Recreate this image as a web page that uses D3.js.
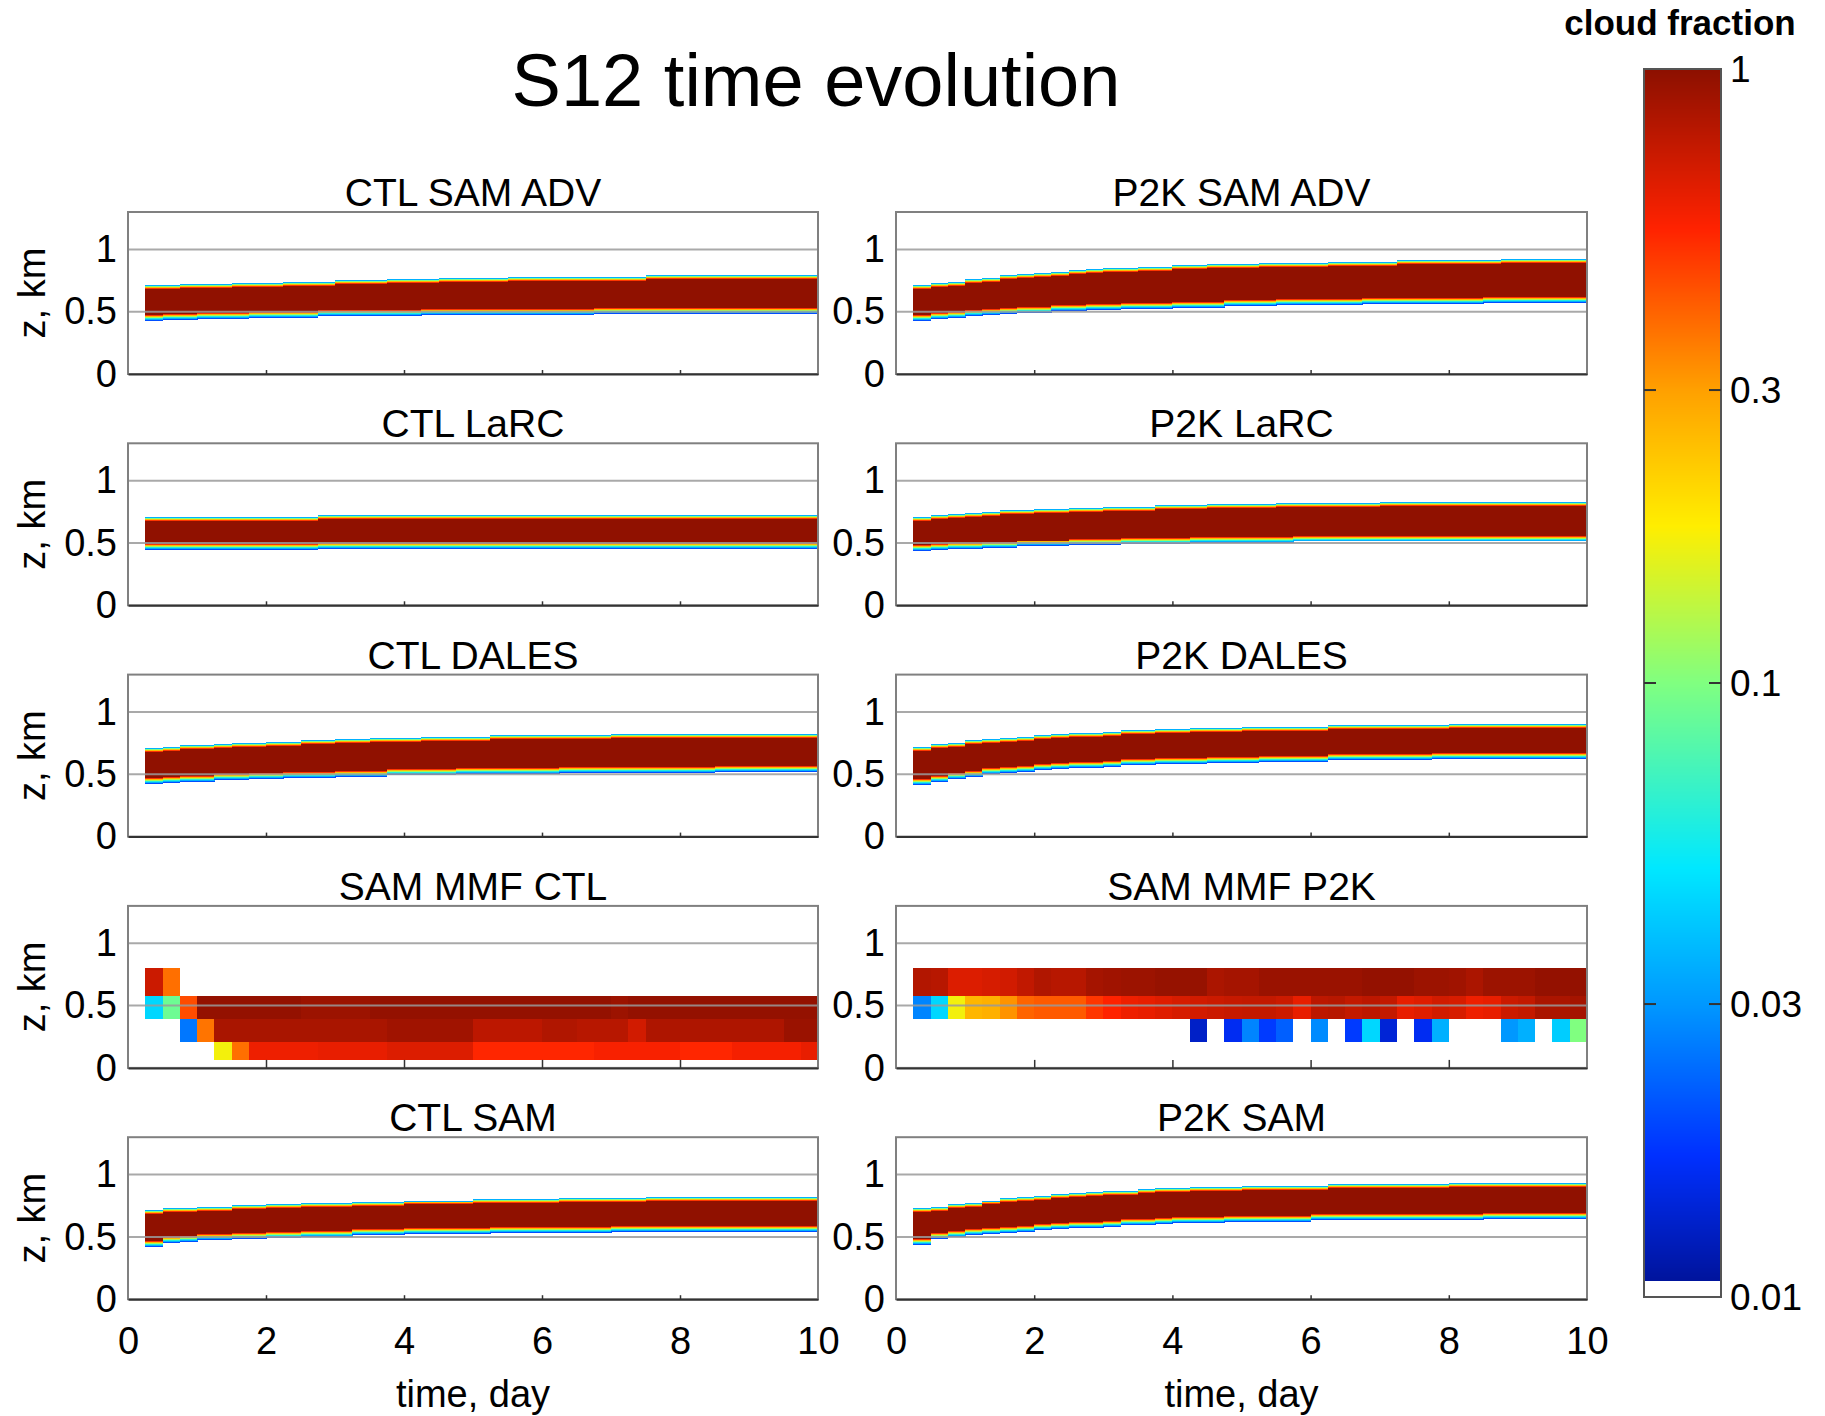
<!DOCTYPE html>
<html>
<head>
<meta charset="utf-8">
<script src="https://cdn.jsdelivr.net/npm/d3@7"></script>
<style>
  body{margin:0;background:#fff;}
  svg{display:block;font-family:"Liberation Sans",Arial,Helvetica,sans-serif;}
</style>
</head>
<body>
<div id="chart"></div>
<script>
// time columns: 0.25 day steps starting at day 0.25 (39 columns up to day 10)
const colStart=0.25, colWidth=0.25;

// LES runs: height (km) of top and base of the cloud core for every column
const ctlSamAdvTop=[0.68,0.68,0.69,0.69,0.69,0.70,0.70,0.70,0.71,0.71,0.71,0.72,0.72,0.72,0.73,0.73,0.73,0.74,0.74,0.74,0.74,0.75,0.75,0.75,0.75,0.75,0.75,0.75,0.75,0.76,0.76,0.76,0.76,0.76,0.76,0.76,0.76,0.76,0.76];
const ctlSamAdvBase=[0.47,0.48,0.48,0.49,0.49,0.49,0.50,0.50,0.50,0.50,0.51,0.51,0.51,0.51,0.51,0.51,0.52,0.52,0.52,0.52,0.52,0.52,0.52,0.52,0.52,0.52,0.53,0.53,0.53,0.53,0.53,0.53,0.53,0.53,0.53,0.53,0.53,0.53,0.53];
const p2kSamAdvTop=[0.68,0.70,0.71,0.73,0.74,0.76,0.77,0.78,0.79,0.80,0.81,0.82,0.82,0.83,0.83,0.84,0.84,0.85,0.85,0.85,0.86,0.86,0.86,0.86,0.87,0.87,0.87,0.87,0.88,0.88,0.88,0.88,0.88,0.88,0.89,0.89,0.89,0.89,0.89];
const p2kSamAdvBase=[0.47,0.49,0.50,0.51,0.52,0.53,0.54,0.54,0.55,0.55,0.56,0.56,0.57,0.57,0.57,0.58,0.58,0.58,0.59,0.59,0.59,0.60,0.60,0.60,0.60,0.60,0.61,0.61,0.61,0.61,0.61,0.61,0.61,0.62,0.62,0.62,0.62,0.62,0.62];
const ctlLarcTop=[0.68,0.68,0.68,0.68,0.68,0.68,0.68,0.68,0.68,0.68,0.69,0.69,0.69,0.69,0.69,0.69,0.69,0.69,0.69,0.69,0.69,0.69,0.69,0.69,0.69,0.69,0.69,0.69,0.69,0.69,0.69,0.69,0.69,0.69,0.69,0.69,0.69,0.69,0.69];
const ctlLarcBase=[0.49,0.49,0.49,0.49,0.49,0.49,0.49,0.49,0.49,0.49,0.50,0.50,0.50,0.50,0.50,0.50,0.50,0.50,0.50,0.50,0.50,0.50,0.50,0.50,0.50,0.50,0.50,0.50,0.50,0.50,0.50,0.50,0.50,0.50,0.50,0.50,0.50,0.50,0.50];
const p2kLarcTop=[0.68,0.69,0.70,0.71,0.72,0.73,0.73,0.74,0.74,0.75,0.75,0.76,0.76,0.76,0.77,0.77,0.77,0.78,0.78,0.78,0.78,0.79,0.79,0.79,0.79,0.79,0.79,0.80,0.80,0.80,0.80,0.80,0.80,0.80,0.80,0.80,0.80,0.80,0.80];
const p2kLarcBase=[0.48,0.49,0.50,0.50,0.51,0.51,0.52,0.52,0.52,0.53,0.53,0.53,0.54,0.54,0.54,0.54,0.55,0.55,0.55,0.55,0.55,0.55,0.56,0.56,0.56,0.56,0.56,0.56,0.56,0.56,0.56,0.56,0.56,0.56,0.56,0.56,0.56,0.56,0.56];
const ctlDalesTop=[0.68,0.69,0.70,0.70,0.71,0.72,0.72,0.73,0.73,0.74,0.74,0.75,0.75,0.76,0.76,0.76,0.77,0.77,0.77,0.77,0.78,0.78,0.78,0.78,0.78,0.78,0.78,0.79,0.79,0.79,0.79,0.79,0.79,0.79,0.79,0.79,0.79,0.79,0.79];
const ctlDalesBase=[0.47,0.48,0.49,0.49,0.50,0.50,0.51,0.51,0.52,0.52,0.52,0.53,0.53,0.53,0.54,0.54,0.54,0.54,0.55,0.55,0.55,0.55,0.55,0.55,0.56,0.56,0.56,0.56,0.56,0.56,0.56,0.56,0.56,0.57,0.57,0.57,0.57,0.57,0.57];
const p2kDalesTop=[0.69,0.71,0.72,0.74,0.75,0.76,0.77,0.78,0.79,0.80,0.80,0.81,0.82,0.82,0.83,0.83,0.84,0.84,0.84,0.85,0.85,0.85,0.85,0.85,0.86,0.86,0.86,0.86,0.86,0.86,0.86,0.87,0.87,0.87,0.87,0.87,0.87,0.87,0.87];
const p2kDalesBase=[0.46,0.49,0.51,0.53,0.55,0.56,0.57,0.58,0.59,0.60,0.60,0.61,0.62,0.62,0.63,0.63,0.63,0.64,0.64,0.64,0.65,0.65,0.65,0.65,0.66,0.66,0.66,0.66,0.66,0.66,0.67,0.67,0.67,0.67,0.67,0.67,0.67,0.67,0.67];
const ctlSamTop=[0.68,0.70,0.70,0.71,0.71,0.72,0.72,0.73,0.73,0.74,0.74,0.74,0.75,0.75,0.75,0.76,0.76,0.76,0.76,0.77,0.77,0.77,0.77,0.77,0.78,0.78,0.78,0.78,0.78,0.79,0.79,0.79,0.79,0.79,0.79,0.79,0.79,0.79,0.79];
const ctlSamBase=[0.47,0.50,0.51,0.52,0.52,0.53,0.53,0.54,0.54,0.55,0.55,0.55,0.56,0.56,0.56,0.57,0.57,0.57,0.57,0.57,0.58,0.58,0.58,0.58,0.58,0.58,0.58,0.59,0.59,0.59,0.59,0.59,0.59,0.59,0.59,0.59,0.59,0.59,0.59];
const p2kSamTop=[0.70,0.71,0.73,0.74,0.76,0.78,0.79,0.80,0.81,0.82,0.83,0.84,0.84,0.85,0.86,0.86,0.87,0.87,0.87,0.88,0.88,0.88,0.88,0.88,0.89,0.89,0.89,0.89,0.89,0.89,0.89,0.90,0.90,0.90,0.90,0.90,0.90,0.90,0.90];
const p2kSamBase=[0.48,0.53,0.55,0.56,0.57,0.58,0.59,0.60,0.61,0.62,0.62,0.63,0.64,0.64,0.65,0.66,0.66,0.66,0.67,0.67,0.67,0.67,0.67,0.68,0.68,0.68,0.68,0.68,0.68,0.68,0.68,0.68,0.68,0.69,0.69,0.69,0.69,0.69,0.69];

// cloud fraction inside the core, and the fringe layers above top / below base
const coreFraction=0.98;
const topFringe=[0.5,0.25,0.1,0.035];
const baseFringe=[0.5,0.25,0.12,0.06,0.035,0.02];
const fringeDz=0.008;

// SAM MMF: coarse levels (edges in km) and cloud fraction per level (lowest first)
const mmfLevels=[0.067,0.21,0.39,0.58,0.80];
const mmfCtl=[
  [0,0,0,0,0.17,0.38,0.6,0.6,0.6,0.6,0.62,0.62,0.62,0.62,0.66,0.66,0.66,0.66,0.66,0.54,0.54,0.54,0.54,0.54,0.54,0.54,0.57,0.57,0.57,0.57,0.57,0.54,0.54,0.54,0.58,0.58,0.58,0.58,0.62],
  [0,0,0.025,0.37,0.86,0.86,0.86,0.86,0.86,0.86,0.86,0.86,0.86,0.86,0.9,0.9,0.9,0.9,0.9,0.78,0.78,0.78,0.78,0.83,0.83,0.8,0.8,0.8,0.7,0.84,0.84,0.84,0.84,0.84,0.84,0.84,0.84,0.93,0.93],
  [0.045,0.09,0.45,0.96,0.96,0.96,0.96,0.96,0.96,0.92,0.92,0.92,0.92,0.96,0.96,0.96,0.96,0.96,0.96,0.96,0.96,0.96,0.96,0.96,0.96,0.96,0.96,0.92,0.96,0.96,0.96,0.96,0.96,0.96,0.96,0.96,0.96,0.96,0.96],
  [0.72,0.38,0,0,0,0,0,0,0,0,0,0,0,0,0,0,0,0,0,0,0,0,0,0,0,0,0,0,0,0,0,0,0,0,0,0,0,0,0]
];
const mmfP2k=[
  [0,0,0,0,0,0,0,0,0,0,0,0,0,0,0,0,0,0,0,0,0,0,0,0,0,0,0,0,0,0,0,0,0,0,0,0,0,0,0],
  [0,0,0,0,0,0,0,0,0,0,0,0,0,0,0,0,0.013,0,0.016,0.027,0.018,0.022,0,0.028,0,0.018,0.045,0.014,0,0.016,0.035,0,0,0,0.03,0.035,0,0.042,0.1],
  [0.027,0.045,0.17,0.26,0.27,0.32,0.4,0.42,0.42,0.42,0.5,0.55,0.6,0.62,0.65,0.68,0.7,0.72,0.74,0.75,0.75,0.72,0.62,0.78,0.8,0.75,0.78,0.75,0.62,0.65,0.7,0.68,0.6,0.62,0.72,0.75,0.85,0.85,0.88],
  [0.82,0.8,0.66,0.66,0.68,0.7,0.76,0.83,0.8,0.8,0.88,0.9,0.92,0.92,0.95,0.95,0.95,0.85,0.88,0.88,0.93,0.93,0.93,0.93,0.93,0.93,0.96,0.96,0.96,0.92,0.92,0.9,0.85,0.92,0.92,0.92,0.96,0.96,0.96]
];

// colour map (log cloud fraction)
const cmapValues=[0.0105,0.017,0.03,0.05,0.1,0.18,0.3,0.55,1];
const cmapColors=["#00139a","#0030ff","#0098ff","#00e8ff","#80ff80","#ffee00","#ffa000","#ff2200","#8c1000"];
const cbarTicks=[1,0.3,0.1,0.03,0.01];
const whiteBelow=0.0106;

const dayTicks=[0,2,4,6,8,10];
const zTicks=[0,0.5,1];
const zGrid=[0.5,1];

const panels=[
  {title:"CTL SAM ADV",top:ctlSamAdvTop,base:ctlSamAdvBase},
  {title:"P2K SAM ADV",top:p2kSamAdvTop,base:p2kSamAdvBase},
  {title:"CTL LaRC",top:ctlLarcTop,base:ctlLarcBase},
  {title:"P2K LaRC",top:p2kLarcTop,base:p2kLarcBase},
  {title:"CTL DALES",top:ctlDalesTop,base:ctlDalesBase},
  {title:"P2K DALES",top:p2kDalesTop,base:p2kDalesBase},
  {title:"SAM MMF CTL",mmf:mmfCtl},
  {title:"SAM MMF P2K",mmf:mmfP2k},
  {title:"CTL SAM",top:ctlSamTop,base:ctlSamBase},
  {title:"P2K SAM",top:p2kSamTop,base:p2kSamBase}
];

const W=1825,H=1416;
const colX=[[128,818],[896,1587]];
const rowTop0=212, rowStep=231.3, panelH=162;
const font='"Liberation Sans",Arial,Helvetica,sans-serif';

var color=d3.scaleLog().domain(cmapValues).range(cmapColors).clamp(true);
function fill(v){ return v<whiteBelow ? "#fff" : color(v); }

var svg=d3.select("#chart").append("svg")
  .attr("width",W).attr("height",H);

svg.append("text")
  .attr("x",816).attr("y",106)
  .attr("text-anchor","middle")
  .style("font-size","74px")
  .text("S12 time evolution");

var defs=svg.append("defs");

panels.forEach(function(p,i){
  var col=i%2, row=Math.floor(i/2);
  var x0=colX[col][0], x1=colX[col][1];
  var top=rowTop0+row*rowStep, bottom=top+panelH;
  var x=d3.scaleLinear().domain([0,10]).range([x0,x1]);
  var y=d3.scaleLinear().domain([0,1.3]).range([bottom,top]);

  defs.append("clipPath").attr("id","clip"+i)
    .append("rect").attr("x",x0).attr("y",top).attr("width",x1-x0).attr("height",panelH);

  var g=svg.append("g");
  var cells=g.append("g").attr("clip-path","url(#clip"+i+")").attr("shape-rendering","crispEdges");

  if(p.mmf){
    p.mmf.forEach(function(levelVals,k){
      cells.selectAll(null)
        .data(levelVals.map(function(v,j){return {v:v,j:j};}).filter(function(d){return d.v>0;}))
        .enter().append("rect")
        .attr("x",function(d){return x(colStart+d.j*colWidth);})
        .attr("width",function(d){return x(colStart+(d.j+1)*colWidth)-x(colStart+d.j*colWidth);})
        .attr("y",y(mmfLevels[k+1]))
        .attr("height",y(mmfLevels[k])-y(mmfLevels[k+1]))
        .attr("fill",function(d){return fill(d.v);});
    });
  }else{
    // build stacked layers for every column: fringes + core
    var layers=[];
    p.top.forEach(function(t,j){
      var b=p.base[j];
      layers.push({j:j,lo:b,hi:t,v:coreFraction});
      topFringe.forEach(function(v,k){
        layers.push({j:j,lo:t+k*fringeDz,hi:t+(k+1)*fringeDz,v:v});
      });
      baseFringe.forEach(function(v,k){
        layers.push({j:j,lo:b-(k+1)*fringeDz,hi:b-k*fringeDz,v:v});
      });
    });
    cells.selectAll("rect").data(layers).enter().append("rect")
      .attr("x",function(d){return x(colStart+d.j*colWidth);})
      .attr("width",function(d){return x(colStart+(d.j+1)*colWidth)-x(colStart+d.j*colWidth)+0.5;})
      .attr("y",function(d){return y(d.hi);})
      .attr("height",function(d){return y(d.lo)-y(d.hi);})
      .attr("fill",function(d){return fill(d.v);});
  }

  // grid lines on top of the data
  g.selectAll(".grid").data(zGrid).enter().append("line")
    .attr("x1",x0).attr("x2",x1)
    .attr("y1",function(d){return y(d);}).attr("y2",function(d){return y(d);})
    .attr("stroke","#9a9a9a").attr("stroke-width",2).attr("stroke-opacity",0.85);

  // box
  g.append("rect").attr("x",x0).attr("y",top).attr("width",x1-x0).attr("height",panelH)
    .attr("fill","none").attr("stroke","#808080").attr("stroke-width",2);

  // bottom axis with inward ticks
  var tickLen=p.mmf?8:4;
  var xAxis=d3.axisBottom(x).tickValues([2,4,6,8]).tickSizeInner(-tickLen).tickSizeOuter(0).tickFormat("");
  var xa=g.append("g").attr("transform","translate(0,"+bottom+")").call(xAxis);
  xa.select(".domain").attr("stroke","#333").attr("stroke-width",2);
  xa.selectAll(".tick line").attr("stroke","#333").attr("stroke-width",1.5);

  if(row===4){
    var xl=g.append("g").attr("transform","translate(0,"+bottom+")")
      .call(d3.axisBottom(x).tickValues(dayTicks).tickSize(0).tickPadding(28).tickFormat(d3.format("d")));
    xl.select(".domain").remove();
    xl.selectAll("text").style("font-size","38px").style("font-family",font).attr("fill","#000");
    g.append("text")
      .attr("x",(x0+x1)/2).attr("y",1407)
      .attr("text-anchor","middle").style("font-size","38px")
      .text("time, day");
  }

  // y tick labels
  var yl=g.append("g").attr("transform","translate("+x0+",0)")
    .call(d3.axisLeft(y).tickValues(zTicks).tickSize(0).tickPadding(11).tickFormat(function(d){return d===0.5?"0.5":d3.format("d")(d);}));
  yl.select(".domain").remove();
  yl.selectAll("text").style("font-size","38px").style("font-family",font).attr("fill","#000");

  if(col===0){
    g.append("text")
      .attr("transform","translate(45,"+(top+bottom)/2+") rotate(-90)")
      .attr("text-anchor","middle").style("font-size","38px")
      .text("z, km");
  }

  g.append("text")
    .attr("x",(x0+x1)/2).attr("y",top-6)
    .attr("text-anchor","middle").style("font-size","39px")
    .text(p.title);
});

// colour bar
var cbX0=1644, cbX1=1721, cbTop=69, cbBottom=1297;
var cy=d3.scaleLog().domain([0.01,1]).range([cbBottom,cbTop]);
var cbar=svg.append("g");
var rows=d3.range(cbTop,cbBottom);
cbar.append("g").attr("shape-rendering","crispEdges")
  .selectAll("rect").data(rows).enter().append("rect")
  .attr("x",cbX0).attr("width",cbX1-cbX0)
  .attr("y",function(d){return d;}).attr("height",1.2)
  .attr("fill",function(d){return fill(cy.invert(d+0.5));});
cbar.append("rect").attr("x",cbX0).attr("y",cbTop).attr("width",cbX1-cbX0).attr("height",cbBottom-cbTop)
  .attr("fill","none").attr("stroke","#555").attr("stroke-width",2);

var inner=cbarTicks.filter(function(d){return d<1&&d>0.01;});
cbar.selectAll(".tl").data(inner).enter().append("line")
  .attr("x1",cbX0).attr("x2",cbX0+12)
  .attr("y1",function(d){return cy(d);}).attr("y2",function(d){return cy(d);})
  .attr("stroke","#333").attr("stroke-width",2);
cbar.selectAll(".tr").data(inner).enter().append("line")
  .attr("x1",cbX1-12).attr("x2",cbX1)
  .attr("y1",function(d){return cy(d);}).attr("y2",function(d){return cy(d);})
  .attr("stroke","#333").attr("stroke-width",2);
cbar.selectAll(".lab").data(cbarTicks).enter().append("text")
  .attr("x",1730).attr("y",function(d){return cy(d);})
  .attr("dy","0.36em").style("font-size","37px")
  .text(function(d){return String(d);});

svg.append("text")
  .attr("x",1680).attr("y",35)
  .attr("text-anchor","middle")
  .style("font-size","35px").style("font-weight","bold")
  .text("cloud fraction");
</script>
</body>
</html>
